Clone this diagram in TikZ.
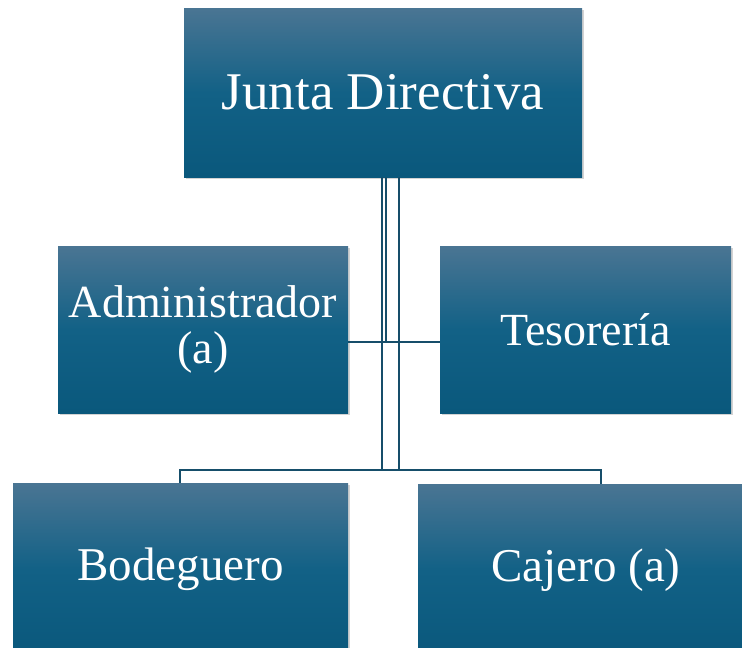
\documentclass[tikz,border=0pt]{standalone}
\usepackage{fontspec}
\setmainfont{Liberation Serif}
\usetikzlibrary{shadows,calc}
\definecolor{boxtop}{RGB}{74,117,147}
\definecolor{boxmid}{RGB}{18,97,134}
\definecolor{boxbot}{RGB}{10,88,124}
\definecolor{linec}{RGB}{22,78,106}
\tikzset{
  orgbox/.style={rectangle, inner sep=0pt, text=white, align=center,
    top color=boxtop, bottom color=boxbot, middle color=boxmid,
    drop shadow={opacity=0.35, shadow xshift=2pt, shadow yshift=-2pt}},
  conn/.style={draw=linec, line width=2.4pt}
}
\begin{document}
\begin{tikzpicture}[x=1pt,y=-1pt]
\useasboundingbox (0,0) rectangle (742,648);
\clip (0,0) rectangle (742,648);
% boxes
\node[orgbox, minimum width=398pt, minimum height=169pt, font=\fontsize{53}{60}\selectfont] (jd) at (383,92.5) {Junta Directiva};
\node[orgbox, minimum width=290pt, minimum height=167pt, font=\fontsize{46}{46}\selectfont] (adm) at (203,329.5) {Administrador\\(a)};
\node[orgbox, minimum width=291pt, minimum height=167pt, font=\fontsize{46}{50}\selectfont] (tes) at (585.5,329.5) {Tesorería};
\coordinate (hubL) at (382,470);
\coordinate (hubR) at (399,470);
\coordinate (hubA) at (386,342);
% connectors
\draw[conn] (jd.south -| hubL) -- (hubL);
\draw[conn] (jd.south -| hubR) -- (hubR);
\draw[conn] (jd.south -| hubA) -- (hubA);
\draw[conn] (adm.east |- hubA) -- (tes.west |- hubA);
\node[orgbox, minimum width=335pt, minimum height=172pt, font=\fontsize{47}{50}\selectfont] (bod) at (180.5,569) {Bodeguero};
\node[orgbox, minimum width=336pt, minimum height=172pt, font=\fontsize{47}{50}\selectfont] (caj) at (586,570) {Cajero (a)};
\draw[conn] (bod.north -| 180,0) |- (hubL) -- (hubR) -| (caj.north -| 601,0);
\end{tikzpicture}
\end{document}
